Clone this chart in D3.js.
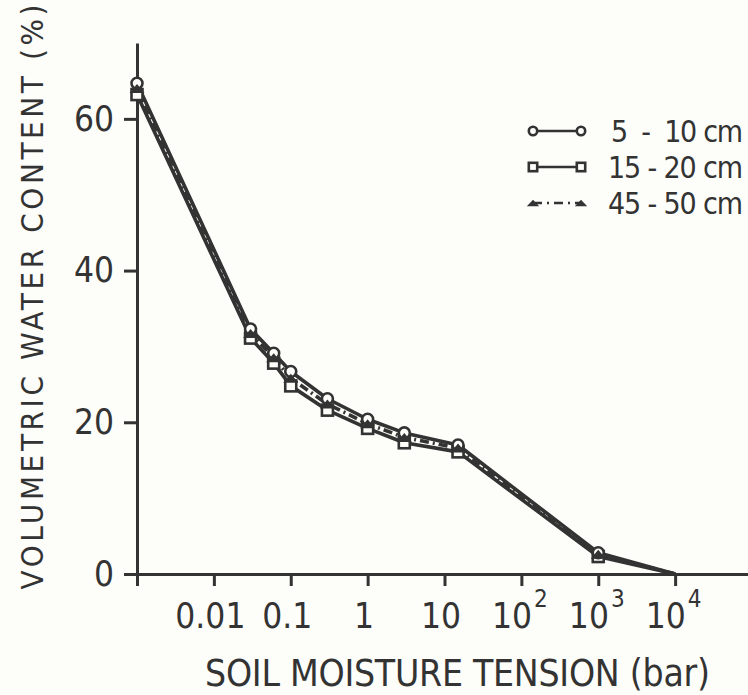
<!DOCTYPE html>
<html>
<head>
<meta charset="utf-8">
<script src="https://cdn.jsdelivr.net/npm/d3@7"></script>
<style>
  body { margin: 0; background: #fdfdf9; }
  svg { display: block; }
</style>
</head>
<body>
<div id="canvas"></div>
<script>
// soil moisture tension (bar) where samples were measured
const tension = [0.001, 0.03, 0.06, 0.1, 0.3, 1, 3, 15, 1000, 10000];

// volumetric water content (%) per depth
const depth5to10 = [64.7, 32.3, 29.1, 26.7, 23.1, 20.4, 18.6, 17.0, 2.8, 0];
const depth15to20 = [63.2, 31.1, 27.8, 24.8, 21.6, 19.2, 17.3, 16.1, 2.3, 0];
const depth45to50 = [64.0, 31.7, 28.5, 25.8, 22.4, 19.8, 18.0, 16.6, 2.6, 0];

const legendLabels = ['5  -  10 cm', '15 - 20 cm', '45 - 50 cm'];

// tick labels
const xTickValues = [0.001, 0.01, 0.1, 1, 10, 100, 1000, 10000];
const xTickBase = ['', '0.01', '0.1', '1', '10', '10', '10', '10'];
const xTickExp = ['', '', '', '', '', '2', '3', '4'];
const yTickValues = [0, 20, 40, 60];

const width = 748;
const height = 695;
const ink = '#333333';
const paper = '#fdfdf9';
const numFont = '"Liberation Sans Narrow", "DejaVu Sans Condensed", "Liberation Sans", sans-serif';

const svg = d3.select('#canvas')
  .append('svg')
  .attr('width', width)
  .attr('height', height)
  .style('background', paper);

// scales
const x = d3.scaleLog().domain([0.001, 1e5]).range([137, 752]);
const y = d3.scaleLinear().domain([0, 70]).range([574, 43]);

// x axis
const xAxis = svg.append('g')
  .attr('transform', `translate(0, ${y(0)})`)
  .call(d3.axisBottom(x).tickValues(xTickValues).tickSize(12).tickSizeOuter(0).tickFormat(''));

xAxis.selectAll('.tick').each(function(d, i) {
  if (!xTickBase[i]) return;
  const t = d3.select(this).append('text')
    .attr('y', 54)
    .attr('x', xTickExp[i] ? -2 : -4)
    .attr('text-anchor', 'middle')
    .style('font-family', numFont)
    .style('font-size', '35px')
    .style('fill', ink);
  t.append('tspan').text(xTickBase[i]);
  if (xTickExp[i]) {
    t.append('tspan')
      .text(xTickExp[i])
      .attr('dy', -21)
      .attr('dx', 2)
      .style('font-size', '24px');
  }
});

// y axis
svg.append('g')
  .attr('transform', `translate(${x(0.001)}, 0)`)
  .call(d3.axisLeft(y).tickValues(yTickValues).tickSize(13).tickSizeOuter(0).tickPadding(10).tickFormat(d3.format('d')))
  .selectAll('text')
  .style('font-family', numFont)
  .style('font-size', '35px')
  .style('fill', ink);

svg.selectAll('.domain, .tick line')
  .style('stroke', ink)
  .style('stroke-width', 3);

// axis titles
svg.append('text')
  .attr('x', 205)
  .attr('y', 686)
  .attr('textLength', 505)
  .attr('lengthAdjust', 'spacing')
  .style('font-family', numFont)
  .style('font-size', '37px')
  .style('fill', ink)
  .text('SOIL MOISTURE TENSION (bar)');

svg.append('text')
  .attr('transform', 'translate(43, 297) rotate(-90)')
  .attr('text-anchor', 'middle')
  .attr('textLength', 585)
  .attr('lengthAdjust', 'spacing')
  .style('font-family', numFont)
  .style('font-size', '31px')
  .style('fill', ink)
  .text('VOLUMETRIC  WATER  CONTENT (%)');

// markers
function drawMarker(sel, shape, cx, cy, r) {
  if (shape === 'circle') {
    sel.append('circle')
      .attr('cx', cx).attr('cy', cy).attr('r', r)
      .style('fill', paper).style('stroke', ink).style('stroke-width', 2.6);
  } else if (shape === 'square') {
    sel.append('rect')
      .attr('x', cx - r).attr('y', cy - r).attr('width', 2 * r).attr('height', 2 * r)
      .style('fill', paper).style('stroke', ink).style('stroke-width', 2.6);
  } else {
    sel.append('path')
      .attr('d', `M${cx - r - 2},${cy + r - 1}L${cx},${cy - r + 1}L${cx + r + 2},${cy + r - 1}Z`)
      .style('fill', ink);
  }
}

const series = [
  { values: depth15to20, shape: 'square', dash: null },
  { values: depth5to10, shape: 'circle', dash: null },
  { values: depth45to50, shape: 'triangle', dash: '9,4,2,4' }
];

const line = d3.line()
  .x(d => x(d[0]))
  .y(d => y(d[1]));

const plot = svg.append('g');

series.forEach(s => {
  plot.append('path')
    .datum(tension.map((t, i) => [t, s.values[i]]))
    .attr('d', line)
    .style('fill', 'none')
    .style('stroke', ink)
    .style('stroke-width', 3.6)
    .style('stroke-linejoin', 'round')
    .style('stroke-dasharray', s.dash);
});

series.forEach(s => {
  tension.forEach((t, i) => {
    if (s.values[i] > 0) drawMarker(plot, s.shape, x(t), y(s.values[i]), 5.5);
  });
});

// legend
const legendShapes = ['circle', 'square', 'triangle'];
const legend = svg.append('g');

legendShapes.forEach((shape, i) => {
  const ly = 131 + i * 36;
  legend.append('line')
    .attr('x1', 533).attr('x2', 581)
    .attr('y1', ly).attr('y2', ly)
    .style('stroke', ink)
    .style('stroke-width', 2.6)
    .style('stroke-dasharray', shape === 'triangle' ? '9,5,2,5' : null);
  drawMarker(legend, shape, 533, ly, 4.2);
  drawMarker(legend, shape, 581, ly, 4.2);
  legend.append('text')
    .attr('x', 743)
    .attr('y', ly + 11)
    .attr('text-anchor', 'end')
    .attr('textLength', i === 0 ? 132 : 135)
    .attr('lengthAdjust', 'spacing')
    .style('font-family', numFont)
    .style('font-size', '30px')
    .style('fill', ink)
    .style('white-space', 'pre')
    .text(legendLabels[i]);
});
</script>
</body>
</html>
